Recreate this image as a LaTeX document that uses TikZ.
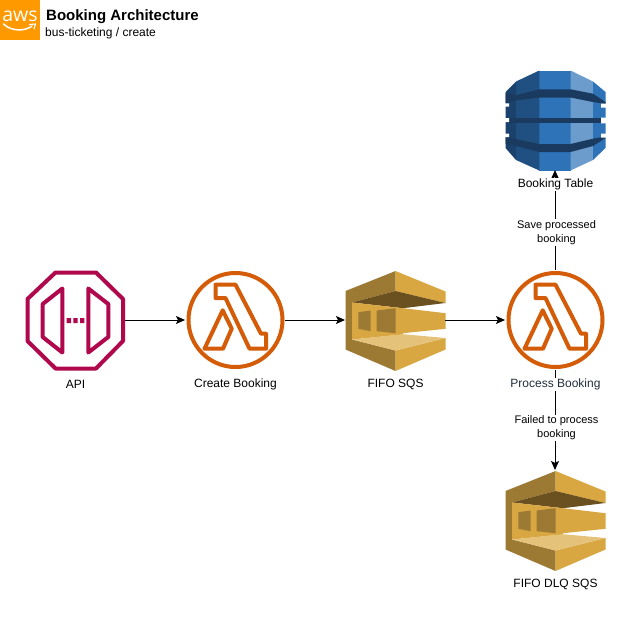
\documentclass[tikz,border=0pt]{standalone}
\usepackage{fontspec}
\setmainfont{Liberation Sans}
\newfontfamily\awsfont{Open Sans}
\usetikzlibrary{arrows.meta}
\definecolor{sqsdark}{HTML}{9D7A34}
\definecolor{sqsgold}{HTML}{D9A741}
\definecolor{sqsroof}{HTML}{6B5020}
\definecolor{sqsfloor}{HTML}{E5C27A}
\definecolor{ddbmid}{HTML}{2E73B8}
\definecolor{ddbdark}{HTML}{205081}
\definecolor{ddblight}{HTML}{6C9CCC}
\definecolor{ddbband}{HTML}{1A3B5F}
\definecolor{ddbside}{HTML}{1B426C}
\definecolor{apicol}{HTML}{B0084D}
\definecolor{lambdacol}{HTML}{D45B07}
\definecolor{inkblue}{HTML}{232F3E}
\definecolor{awsorange}{HTML}{FF9900}
\tikzset{
  x=1pt,y=-1pt,
  iconbox/.style={minimum size=100pt,inner sep=0pt,outer sep=0pt},
  flow/.style={draw=black,line width=0.8pt,-{Stealth[length=9pt,width=8pt,inset=2pt]}},
  caption/.style={font=\fontsize{12}{14}\selectfont,fill=white,inner sep=1pt,align=center},
  edgelabel/.style={font=\fontsize{11}{14}\selectfont,fill=white,inner sep=1pt,align=center},
  lambdaline/.style={draw=lambdacol,line width=4pt,line join=round},
  apiline/.style={draw=apicol,line width=4pt,line join=round},
  lambdaicon/.pic={
    \draw[lambdaline] (0.5,0) circle[radius=47];
    \draw[lambdaline] (-19.5,-35.3) -- (0.5,-35.3) -- (26,13.7) -- (31,13.7) -- (31,28.7) -- (14.5,28.7) -- (-9.5,-22) -- (-19.5,-22) -- cycle;
    \draw[lambdaline] (-12.3,-9.7) -- (-3.3,8.7) -- (-12,28.7) -- (-30.5,28.7) -- cycle;
  },
  sqsicon/.pic={
    \fill[sqsdark] (-50,-29.5) -- (0,-49.5) -- (0,-29.5) -- (-43.5,-18) -- (-43.5,19) -- (0,30) -- (0,50.5) -- (-50,29) -- cycle;
    \fill[sqsgold] (0,-49.5) -- (50,-29) -- (50,-17.5) -- (0,-29.5) -- cycle;
    \fill[sqsgold] (0,30) -- (50,17.5) -- (50,29) -- (0,50.5) -- cycle;
    \fill[sqsroof] (-43.5,-18) -- (0,-29.5) -- (50,-17.5) -- (7.5,-12.3) -- cycle;
    \fill[sqsgold] (-43.5,-18) -- (7.5,-12.3) -- (50,-7.3) -- (50,8.3) -- (7.5,12.7) -- (7.5,14) -- (-43.5,19) -- cycle;
    \fill[sqsfloor] (-43.5,19) -- (7.5,13.7) -- (50,17.5) -- (0,30) -- cycle;
    \fill[sqsdark] (-37.2,-8.3) -- (-24.8,-10) -- (-24.8,10.7) -- (-37.2,8.3) -- cycle;
    \fill[sqsdark] (-18.8,-10) -- (0,-12.3) -- (0,12.7) -- (-18.8,10.7) -- cycle;
  },
}
\begin{document}
\begin{tikzpicture}
\useasboundingbox (0,0) rectangle (640,640);
\fill[white] (0,0) rectangle (640,640);
% header
\node[minimum size=40pt,inner sep=0pt,outer sep=0pt,fill=awsorange] (awsbox) at (20,20) {};
\node[text=white,inner sep=0pt,font=\awsfont\fontsize{19.5}{20}\selectfont,anchor=base] (awstext) at (20,21.5) {aws};
\draw[white,line width=1.5pt,line cap=round] (3.5,24) .. controls (11,31.5) and (25,31.5) .. (32,26);
\draw[white,line width=1.1pt,line cap=round,line join=round] (29.5,24.5) -- (35.5,24) -- (34,29);
\node[anchor=base west,inner sep=0pt,font=\fontsize{15}{18}\selectfont\bfseries] (title) at (46,20.5) {Booking Architecture};
\node[anchor=base west,inner sep=0pt,font=\fontsize{12}{14}\selectfont] (subtitle) at (45,36) {bus-ticketing / create};
% API icon
\node[iconbox] (api) at (75,320) {};
\draw[apiline] (55.5,272.5) -- (96,272.5) -- (123,299) -- (123,341) -- (96,368.5) -- (55.5,368.5) -- (27.5,341) -- (27.5,299) -- cycle;
\draw[apiline] (62.3,288.5) -- (42.7,304) -- (42.7,337) -- (62.3,352.5) -- cycle;
\draw[apiline] (88.3,288.5) -- (108.3,304) -- (108.3,337) -- (88.3,352.5) -- cycle;
\fill[apicol] (66.7,318) rectangle (71,323) (73.3,318) rectangle (77.6,323) (80,318) rectangle (84.3,323);
% Other icons
\node[iconbox] (create) at (235,320) {};
\pic at (create) {lambdaicon};
\node[iconbox] (sqs) at (395,320) {};
\pic at ([shift={(0.5,0.5)}]sqs.center) {sqsicon};
\node[iconbox] (process) at (555,320) {};
\pic at (process) {lambdaicon};
\node[iconbox] (dlq) at (555,520) {};
\pic at ([shift={(0.5,0.5)}]dlq.center) {sqsicon};
% DynamoDB
\node[iconbox] (table) at (555,120) {};
\fill[ddbmid] (539.3,70.5) rectangle (570.5,170.5);
\fill[ddbdark] (516,81.5) -- (539.3,70.5) -- (539.3,170.5) -- (516,160) -- cycle;
\fill[ddbside] (505.5,92) -- (516,81.5) -- (516,160) -- (505.5,148) -- cycle;
\fill[ddblight] (570.5,70.5) -- (593,81.5) -- (593,160) -- (570.5,170.5) -- cycle;
\fill[ddbmid] (593,81.5) -- (605.5,92) -- (605.5,148) -- (593,160) -- cycle;
\fill[ddbband] (505.5,93) -- (516,95.3) -- (539.3,89.3) -- (570.5,89.3) -- (593,93.7) -- (605.5,102) -- (605.5,104) -- (593,102) -- (570.5,97.5) -- (539.3,97.5) -- (516,100.5) -- (505.5,103) -- cycle;
\fill[ddbband] (505.5,117.7) rectangle (601,123.3);
\fill[ddbband] (505.5,137) -- (516,139) -- (539.3,144) -- (570.5,144) -- (593,138.7) -- (605.5,136.5) -- (605.5,138) -- (593,146) -- (570.5,152) -- (539.3,152) -- (516,146) -- (505.5,144) -- cycle;
\fill[white] (504.5,103.3) rectangle (509,106.7) (504.5,118) rectangle (509,122) (504.5,133.7) rectangle (509,137);
\fill[white] (601,103.5) rectangle (606.5,107.5) (601,117.7) rectangle (606.5,123.3) (601,133.7) rectangle (606.5,137.5);
% connectors
\draw[flow] (api.east) -- (create.west);
\draw[flow] (create.east) -- (sqs.west);
\draw[flow] (sqs.east) -- (process.west);
\draw[flow] (process.north) -- node[edgelabel,pos=0.39,xshift=1.5pt,yshift=-1.5pt] {Save processed\\booking} (table.south);
\draw[flow] (process.south) -- node[edgelabel,pos=0.565,xshift=1.5pt,yshift=-1.5pt] {Failed to process\\booking} (dlq.north);
% captions
\node[caption] (apicap) at (75.5,384.7) {API};
\node[caption] (createcap) at (235.5,384.7) {Create Booking};
\node[caption] (sqscap) at (395.5,384.7) {FIFO SQS};
\node[caption,text=inkblue] (processcap) at (555.5,384.7) {Process Booking};
\node[caption] (tablecap) at (555.5,184.7) {Booking Table};
\node[caption] (dlqcap) at (555.5,584.7) {FIFO DLQ SQS};
\end{tikzpicture}
\end{document}
